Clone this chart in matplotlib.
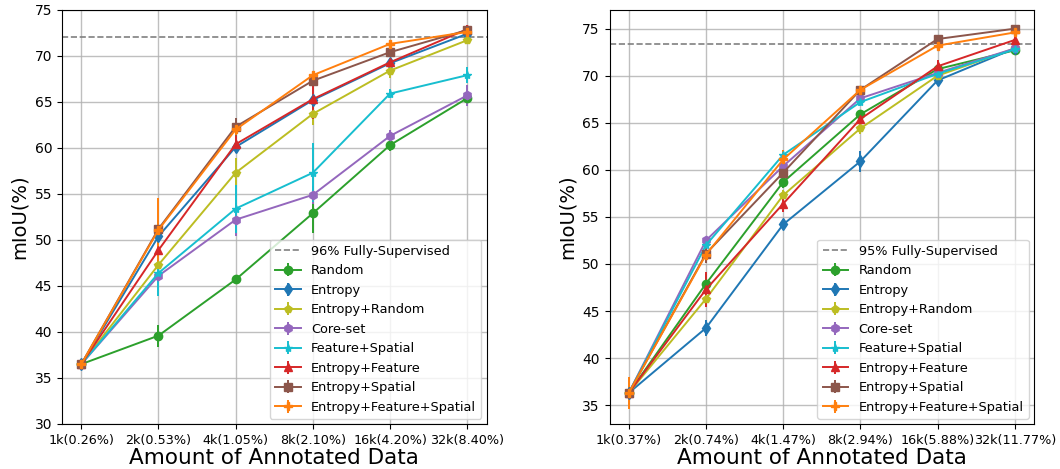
import matplotlib
matplotlib.use('Agg')
import matplotlib.pyplot as plt
import numpy as np

methods = ['Random', 'Entropy', 'Entropy+Random', 'Core-set', 'Feature+Spatial',
           'Entropy+Feature', 'Entropy+Spatial', 'Entropy+Feature+Spatial']
colors = ['tab:green', 'tab:blue', 'tab:olive', 'tab:purple', 'tab:cyan',
          'tab:red', 'tab:brown', 'tab:orange']
markers = ['o', 'd', 'p', 'h', '*', '^', 's', 'P']

# left panel
ticks_left = ['1k(0.26%)', '2k(0.53%)', '4k(1.05%)', '8k(2.10%)', '16k(4.20%)', '32k(8.40%)']
full_left = 72.0
mean_left = [
    [36.5, 39.6, 45.7, 52.9, 60.3, 65.4],
    [36.5, 50.4, 60.1, 65.2, 69.2, 72.4],
    [36.5, 47.3, 57.3, 63.7, 68.4, 71.7],
    [36.5, 46.1, 52.2, 54.9, 61.3, 65.7],
    [36.5, 46.4, 53.4, 57.3, 65.9, 67.9],
    [36.5, 48.9, 60.4, 65.3, 69.3, 72.9],
    [36.5, 51.2, 62.3, 67.3, 70.4, 72.8],
    [36.5, 51.1, 62.0, 67.9, 71.3, 72.6],
]
err_left = [
    [0.3, 1.2, 0.4, 2.2, 0.6, 0.5],
    [0.2, 0.6, 0.6, 0.5, 0.4, 0.4],
    [0.2, 0.8, 1.6, 1.2, 0.8, 0.4],
    [0.2, 0.5, 1.8, 1.0, 0.6, 1.1],
    [0.2, 2.5, 2.6, 3.2, 0.5, 0.9],
    [0.2, 0.8, 1.0, 2.2, 0.5, 0.5],
    [0.2, 1.0, 1.0, 0.6, 0.4, 0.4],
    [0.2, 3.5, 0.6, 0.5, 0.4, 0.4],
]

# right panel
ticks_right = ['1k(0.37%)', '2k(0.74%)', '4k(1.47%)', '8k(2.94%)', '16k(5.88%)', '32k(11.77%)']
full_right = 73.4
mean_right = [
    [36.3, 47.9, 58.7, 65.9, 70.7, 72.7],
    [36.3, 43.2, 54.2, 60.9, 69.5, 72.9],
    [36.3, 46.3, 57.3, 64.4, 70.0, 72.9],
    [36.3, 52.5, 60.4, 67.6, 70.3, 72.9],
    [36.3, 52.0, 61.6, 67.2, 70.2, 72.8],
    [36.3, 47.3, 56.4, 65.4, 71.0, 73.8],
    [36.3, 51.1, 59.7, 68.5, 73.9, 75.0],
    [36.3, 51.0, 61.1, 68.5, 73.2, 74.6],
]
err_right = [
    [0.3, 1.0, 0.6, 0.4, 0.4, 0.5],
    [0.3, 0.9, 0.5, 1.1, 0.3, 0.3],
    [0.3, 0.8, 0.6, 0.6, 0.3, 0.3],
    [0.3, 0.4, 0.5, 0.4, 0.3, 0.3],
    [0.3, 0.5, 0.5, 0.4, 0.3, 0.3],
    [0.3, 1.9, 0.9, 0.5, 0.7, 0.4],
    [0.3, 1.0, 0.6, 0.3, 0.3, 0.3],
    [1.7, 0.5, 1.0, 0.3, 0.3, 0.3],
]

fig = plt.figure(figsize=(10.6, 4.69), dpi=100)
ax1 = fig.add_axes([0.0585, 0.096, 0.4005, 0.883])
ax2 = fig.add_axes([0.575, 0.096, 0.4005, 0.883])


def draw(ax, ticks, full, means, errs, pct, ylim, yticks):
    x = np.arange(len(ticks))
    ax.axhline(full, color='gray', linestyle='--', linewidth=1.2,
               label=pct + ' Fully-Supervised')
    for name, c, m, mu, e in zip(methods, colors, markers, means, errs):
        ax.errorbar(x, mu, yerr=e, color=c, marker=m, markersize=6,
                    linewidth=1.4, elinewidth=1.4, label=name)
    ax.set_xticks(x)
    ax.set_xticklabels(ticks, fontsize=9.2)
    ax.set_yticks(yticks)
    ax.tick_params(axis='y', labelsize=10)
    ax.set_ylim(*ylim)
    ax.set_xlim(-0.25, 5.25)
    ax.grid(True, color='#b0b0b0', linewidth=1.0, alpha=0.8)
    ax.set_axisbelow(True)
    ax.set_xlabel('Amount of Annotated Data', fontsize=15.5, labelpad=1)
    ax.set_ylabel('mIoU(%)', fontsize=14)
    ax.legend(loc='lower right', fontsize=9.3, borderaxespad=0.4)


draw(ax1, ticks_left, full_left, mean_left, err_left, '96%', (30, 75), range(30, 76, 5))
draw(ax2, ticks_right, full_right, mean_right, err_right, '95%', (33, 77), range(35, 76, 5))

plt.savefig('out.png', dpi=100)
